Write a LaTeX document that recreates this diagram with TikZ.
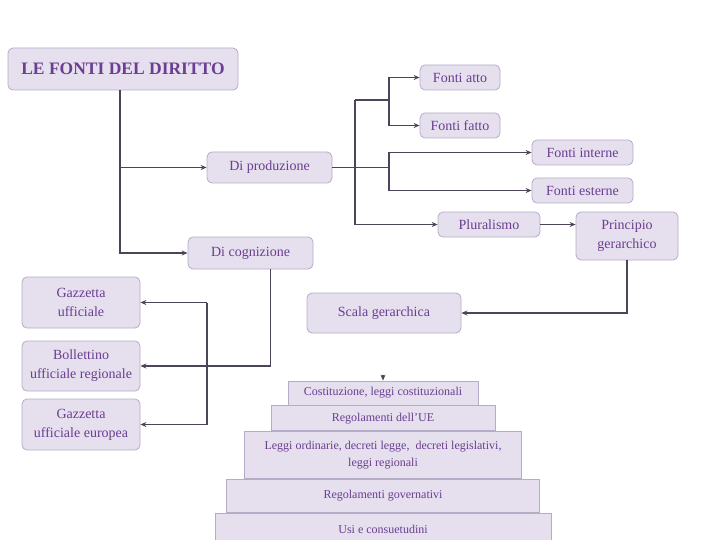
\documentclass[tikz,border=0pt]{standalone}
\usepackage{fontspec}
\setmainfont{Liberation Serif}
\usetikzlibrary{positioning,arrows.meta}
\definecolor{riemp}{HTML}{E5DFEE}
\definecolor{bordo}{HTML}{B5ACC6}
\definecolor{viola}{HTML}{6B3E91}
\definecolor{linea}{HTML}{4D4459}
\tikzset{
  box/.style={draw=bordo, line width=0.8pt, fill=riemp, rounded corners=5pt, text=viola, align=center,
    inner sep=0pt, font=\fontsize{14}{19}\selectfont},
  pyr/.style={draw=bordo, line width=0.8pt, fill=riemp, text=viola, align=center, inner sep=0pt,
    font=\fontsize{12}{17}\selectfont},
  conn/.style={draw=linea, line width=1.1pt},
  freccia/.style={conn, -{Stealth[length=6pt,width=5pt]}}
}
\begin{document}
\begin{tikzpicture}[x=1pt,y=-1pt]
\useasboundingbox (0,0) rectangle (720,540);

%Titolo e rami principali
\node[box, minimum width=230, minimum height=42, font=\fontsize{17.5}{20}\selectfont\bfseries] (titolo) at (123,69) {LE FONTI DEL DIRITTO};
\node[box, minimum width=125, minimum height=31] (prod) at (269.5,167.5) {Di produzione};
\node[box, minimum width=125, minimum height=32] (cogn) at (250.5,253) {Di cognizione};

%Fonti
\node[box, minimum width=80, minimum height=25] (atto) at (460,77.5) {Fonti atto};
\node[box, minimum width=80, minimum height=25] (fatto) at (460,125.5) {Fonti fatto};
\node[box, minimum width=101, minimum height=25] (interne) at (582.5,152.5) {Fonti interne};
\node[box, minimum width=101, minimum height=25] (esterne) at (582.5,190.5) {Fonti esterne};
\node[box, minimum width=102, minimum height=25] (plur) at (489,224.5) {Pluralismo};
\node[box, minimum width=102, minimum height=48] (princ) at (627,236) {Principio\\gerarchico};
\node[box, minimum width=154, minimum height=40] (scala) at (384,313) {Scala gerarchica};

%Gazzette
\node[box, minimum width=118, minimum height=51] (gu) at (81,302.5) {Gazzetta\\ufficiale};
\node[box, minimum width=118, minimum height=50] (bur) at (81,366) {Bollettino\\ufficiale regionale};
\node[box, minimum width=118, minimum height=51] (gue) at (81,424.5) {Gazzetta\\ufficiale europea};

%Piramide
\node[pyr, minimum width=190, minimum height=24] (p1) at (383,393) {Costituzione, leggi costituzionali};
\node[pyr, minimum width=224, minimum height=25, below=0pt of p1] (p2) {Regolamenti dell'UE};
\node[pyr, minimum width=277, minimum height=47, below=0pt of p2] (p3) {Leggi ordinarie, decreti legge, \ decreti legislativi,\\leggi regionali};
\node[pyr, minimum width=313, minimum height=33, below=0pt of p3] (p4) {Regolamenti governativi};
\node[pyr, minimum width=336, minimum height=32, below=0pt of p4] (p5) {Usi e consuetudini};

%Collegamenti
\coordinate (t1) at (355,100);
\coordinate (b1) at (389,100);
\coordinate (b2) at (389,167.5);
\coordinate (c1) at (207,0);
\coordinate (s1) at (383,374.5);

\draw[freccia] ([xshift=-3pt]titolo.south) |- (cogn.west);
\draw[freccia] ([xshift=-3pt]titolo.south |- prod.west) -- (prod.west);
\draw[conn] (prod.east) -- (b2);
\draw[conn] (t1) -- (b1);
\draw[freccia] (t1) |- (plur.west);
\draw[freccia] (b1) |- (atto.west);
\draw[freccia] (b1) |- (fatto.west);
\draw[freccia] (b2) |- (interne.west);
\draw[freccia] (b2) |- (esterne.west);
\draw[freccia] (plur.east) -- (plur.east -| princ.west);
\draw[freccia] (princ.south) |- (scala.east);
\draw[freccia] (s1) -- (p1.north);

\draw[freccia] ([xshift=20pt]cogn.south) |- (bur.east);
\draw[conn] (c1 |- gu.east) -- (c1 |- gue.east);
\draw[freccia] (c1 |- gu.east) -- (gu.east);
\draw[freccia] (c1 |- gue.east) -- (gue.east);

\end{tikzpicture}
\end{document}
